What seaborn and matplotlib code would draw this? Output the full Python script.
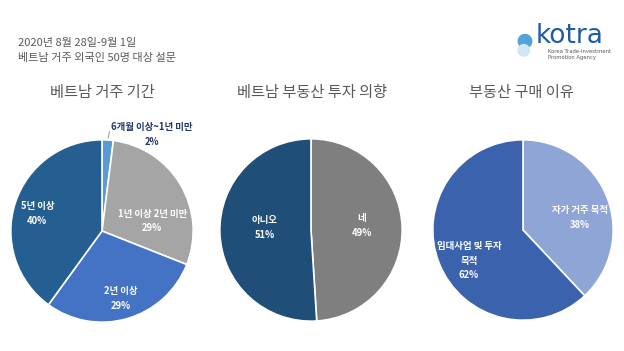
import matplotlib
matplotlib.use("Agg")
import matplotlib.pyplot as plt
import seaborn as sns

# survey data (percent)
stay_labels = ["6개월 이상~1년 미만", "1년 이상 2년 미만", "2년 이상", "5년 이상"]
stay_values = [2, 29, 29, 40]
stay_colors = ["#5b9bd5", "#a5a5a5", "#4472c4", "#255e91"]

intent_labels = ["네", "아니오"]
intent_values = [49, 51]
intent_colors = ["#7f7f7f", "#1f4e79"]

reason_labels = ["자가 거주 목적", "임대사업 및 투자\n목적"]
reason_values = [38, 62]
reason_colors = ["#8fa5d6", "#3a62ad"]

titles = ["베트남 거주 기간", "베트남 부동산 투자 의향", "부동산 구매 이유"]

# label placement inside each pie (radius units), like the PowerPoint layout
stay_pos = [(0.55, 1.06), (0.55, 0.11), (0.21, -0.74), (-0.71, 0.19)]
intent_pos = [(0.56, 0.05), (-0.51, 0.03)]
reason_pos = [(0.63, 0.14), (-0.60, -0.34)]

sns.set_theme(style="white")
plt.rcParams["font.family"] = ["Noto Sans CJK KR", "DejaVu Sans"]

W, H = 624, 351
fig = plt.figure(figsize=(W / 100, H / 100), dpi=100)
fig.patch.set_facecolor("white")


def pie_axes(cx, cy, r):
    return fig.add_axes([(cx - r) / W, (H - cy - r) / H, 2 * r / W, 2 * r / H])


def draw_pie(ax, labels, values, colors, positions, text_colors=None):
    wedges, _ = ax.pie(
        values, colors=colors, startangle=90, counterclock=False,
        wedgeprops=dict(edgecolor="white", linewidth=1.2),
    )
    text_colors = text_colors or ["white"] * len(values)
    for l, v, (x, y), c in zip(labels, values, positions, text_colors):
        ax.text(x, y, f"{l}\n{v}%", ha="center", va="center", color=c,
                fontsize=6.8, fontweight="bold", linespacing=1.6, clip_on=False)
    ax.set_xlim(-1.02, 1.02)
    ax.set_ylim(-1.02, 1.02)
    ax.set_aspect("equal")
    ax.axis("off")
    return wedges


ax1 = pie_axes(102, 231, 93)
draw_pie(ax1, stay_labels, stay_values, stay_colors, stay_pos,
         text_colors=["#203864", "white", "white", "white"])
# leader line for the tiny slice
ax1.annotate("", xy=(0.06, 0.99), xytext=(0.09, 1.12), annotation_clip=False,
             arrowprops=dict(arrowstyle="-", color="#a6a6a6", lw=0.8))

ax2 = pie_axes(311, 230, 93)
draw_pie(ax2, intent_labels, intent_values, intent_colors, intent_pos)

ax3 = pie_axes(523, 230, 92)
draw_pie(ax3, reason_labels, reason_values, reason_colors, reason_pos)

title_x = [102, 312, 521]
for x, t in zip(title_x, titles):
    fig.text(x / W, 1 - 93 / H, t, ha="center", va="center", fontsize=11, color="#595959")

fig.text(18 / W, 1 - 43 / H, "2020년 8월 28일-9월 1일", ha="left", va="center",
         fontsize=8, color="#595959")
fig.text(18 / W, 1 - 58 / H, "베트남 거주 외국인 50명 대상 설문", ha="left", va="center",
         fontsize=8, color="#595959")

# kotra logo (text approximation)
fig.text(536 / W, 1 - 36 / H, "kotra", ha="left", va="center", fontsize=19,
         color="#1f5aa6", family=["DejaVu Sans"])
fig.text(548 / W, 1 - 54.5 / H, "Korea Trade-Investment\nPromotion Agency", ha="left",
         va="center", fontsize=3.8, color="#595959", linespacing=1.2,
         family=["DejaVu Sans"])
logo = fig.add_axes([513 / W, 1 - 62 / H, 24 / W, 32 / H])
logo.add_patch(plt.Circle((0.5, 0.7), 0.28, color="#4fa3d8"))
logo.add_patch(plt.Circle((0.45, 0.32), 0.24, color="#cfe6f5"))
logo.set_xlim(0, 1)
logo.set_ylim(0, 1)
logo.set_aspect("equal")
logo.axis("off")

fig.savefig("out.png", dpi=100, facecolor="white")
